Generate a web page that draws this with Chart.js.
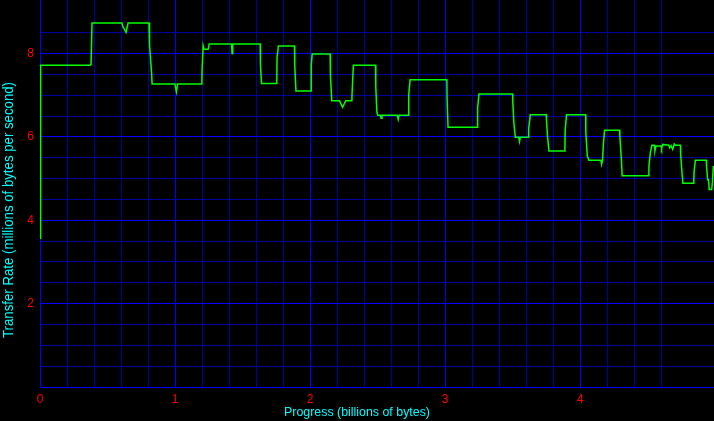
<!DOCTYPE html>
<html>
<head>
<meta charset="utf-8">
<title>Transfer Rate</title>
<script src="https://cdn.jsdelivr.net/npm/chart.js@4/dist/chart.umd.min.js"></script>
<style>
	html, body { margin: 0; padding: 0; background: #000; }
</style>
</head>
<body>
<canvas id="chart-area" width="714" height="421"></canvas>
<script>
	// progress in billions of bytes
	var progress = [
		0, 0.002, 0.007, 0.370, 0.378, 0.385, 0.607, 0.612, 0.637, 0.652,
		0.807, 0.811, 0.826, 0.830, 0.998, 1.010, 1.018, 1.198, 1.200, 1.208,
		1.215, 1.245, 1.253, 1.418, 1.422, 1.427, 1.630, 1.632, 1.640, 1.753,
		1.755, 1.765, 1.884, 1.886, 1.895, 2.007, 2.008, 2.015, 2.148, 2.150,
		2.160, 2.217, 2.240, 2.264, 2.309, 2.310, 2.320, 2.484, 2.486, 2.494,
		2.500, 2.520, 2.526, 2.532, 2.645, 2.652, 2.658, 2.728, 2.730, 2.740,
		3.012, 3.014, 3.021, 3.239, 3.240, 3.250, 3.499, 3.500, 3.508, 3.519,
		3.545, 3.550, 3.556, 3.617, 3.618, 3.630, 3.748, 3.750, 3.758, 3.768,
		3.886, 3.888, 3.898, 4.040, 4.041, 4.052, 4.064, 4.153, 4.158, 4.165,
		4.171, 4.180, 4.291, 4.293, 4.304, 4.310, 4.506, 4.508, 4.519, 4.530,
		4.548, 4.553, 4.560, 4.598, 4.602, 4.610, 4.655, 4.662, 4.672, 4.684,
		4.696, 4.705, 4.741, 4.743, 4.753, 4.760, 4.840, 4.842, 4.852, 4.933,
		4.935, 4.943, 4.950, 4.954, 4.973, 4.978, 4.985
	];

	// transfer rate in millions of bytes per second
	var rate = [
		3.57, 5.68, 7.72, 7.72, 7.74, 8.73, 8.73, 8.66, 8.51, 8.73,
		8.73, 8.20, 7.54, 7.27, 7.27, 7.08, 7.27, 7.27, 7.61, 8.19,
		8.10, 8.10, 8.23, 8.23, 8.00, 8.23, 8.23, 7.74, 7.28, 7.28,
		7.90, 8.18, 8.18, 7.72, 7.10, 7.10, 7.71, 7.99, 7.99, 7.49,
		6.87, 6.87, 6.71, 6.87, 6.87, 7.01, 7.72, 7.72, 7.20, 6.60,
		6.52, 6.52, 6.45, 6.52, 6.52, 6.42, 6.52, 6.52, 7.01, 7.37,
		7.37, 6.91, 6.23, 6.23, 6.70, 7.03, 7.03, 6.87, 6.34, 5.99,
		5.99, 5.89, 5.99, 5.99, 6.20, 6.53, 6.53, 6.40, 5.99, 5.66,
		5.66, 6.15, 6.53, 6.53, 6.11, 5.54, 5.44, 5.44, 5.34, 5.44,
		5.84, 6.16, 6.16, 6.01, 5.48, 5.07, 5.07, 5.29, 5.63, 5.80,
		5.80, 5.67, 5.78, 5.78, 5.72, 5.82, 5.80, 5.74, 5.79, 5.70,
		5.83, 5.80, 5.80, 5.59, 5.14, 4.89, 4.89, 5.15, 5.44, 5.44,
		5.30, 4.97, 4.97, 4.74, 4.74, 4.91, 5.30
	];

	var xTickLabels = ['0', '1', '2', '3', '4'];
	var yTickLabels = ['2', '4', '6', '8'];

	var xTitle = 'Progress (billions of bytes)';
	var yTitle = 'Transfer Rate (millions of bytes per second)';

	var points = [];
	for (var i = 0; i < progress.length; i++) {
		points.push({ x: progress[i], y: rate[i] });
	}

	function near(v, step) {
		var r = v / step;
		return Math.abs(r - Math.round(r)) < 1e-6;
	}

	var majorBlue = '#0000ff';
	var minorBlue = '#0000a0';

	// axis titles centred on the canvas, squeezed to the width seen in the picture
	var titles = {
		id: 'titles',
		afterDraw: function(chart) {
			var ctx = chart.ctx;
			ctx.save();
			ctx.fillStyle = '#00ffff';
			ctx.textAlign = 'center';
			ctx.textBaseline = 'middle';
			ctx.font = '12px "Liberation Sans"';
			var w = ctx.measureText(xTitle).width;
			ctx.translate(357, 413);
			ctx.scale(146 / w, 1);
			ctx.fillText(xTitle, 0, 0);
			ctx.restore();

			ctx.save();
			ctx.fillStyle = '#00ffff';
			ctx.textAlign = 'center';
			ctx.textBaseline = 'middle';
			ctx.font = '14px "Liberation Sans"';
			var w2 = ctx.measureText(yTitle).width;
			ctx.translate(9, 210);
			ctx.rotate(-Math.PI / 2);
			ctx.scale(256 / w2, 1);
			ctx.fillText(yTitle, 0, 0);
			ctx.restore();
		}
	};

	var config = {
		type: 'scatter',
		data: {
			datasets: [{
				data: points,
				showLine: true,
				borderColor: '#00ff00',
				borderWidth: 1.5,
				pointRadius: 0,
				tension: 0
			}]
		},
		options: {
			responsive: false,
			animation: false,
			layout: { padding: 0 },
			plugins: {
				legend: { display: false },
				tooltip: { enabled: false }
			},
			scales: {
				x: {
					type: 'linear',
					min: 0,
					max: 4.99,
					afterFit: function(scale) {
						scale.height = 34;
						scale.paddingLeft = 0;
						scale.paddingRight = 0;
					},
					border: { color: majorBlue, width: 1 },
					grid: {
						drawTicks: false,
						lineWidth: 1,
						color: function(c) {
							var v = c.tick.value;
							if (near(v, 1)) return majorBlue;
							if (near(v, 0.2)) return minorBlue;
							return 'rgba(0,0,0,0)';
						}
					},
					ticks: {
						stepSize: 0.2,
						autoSkip: false,
						maxRotation: 0,
						padding: 5,
						color: '#ff0000',
						font: { family: 'Liberation Sans', size: 12 },
						callback: function(v) {
							var s = String(Math.round(v));
							if (near(v, 1) && xTickLabels.indexOf(s) >= 0) return s;
							return '';
						}
					}
				},
				y: {
					min: 0,
					max: 9.284,
					afterFit: function(scale) {
						scale.width = 40;
						scale.paddingTop = 0;
						scale.paddingBottom = 0;
					},
					border: { color: majorBlue, width: 1 },
					grid: {
						drawTicks: false,
						lineWidth: 1,
						color: function(c) {
							var v = c.tick.value;
							if (near(v, 2)) return majorBlue;
							if (near(v, 0.5)) return minorBlue;
							return 'rgba(0,0,0,0)';
						}
					},
					ticks: {
						stepSize: 0.5,
						autoSkip: false,
						padding: 6,
						color: '#ff0000',
						font: { family: 'Liberation Sans', size: 12 },
						callback: function(v) {
							var s = String(Math.round(v));
							if (near(v, 1) && yTickLabels.indexOf(s) >= 0) return s;
							return '';
						}
					}
				}
			}
		},
		plugins: [titles]
	};

	var ctx = document.getElementById('chart-area').getContext('2d');
	window.rateChart = new Chart(ctx, config);
</script>
</body>
</html>
